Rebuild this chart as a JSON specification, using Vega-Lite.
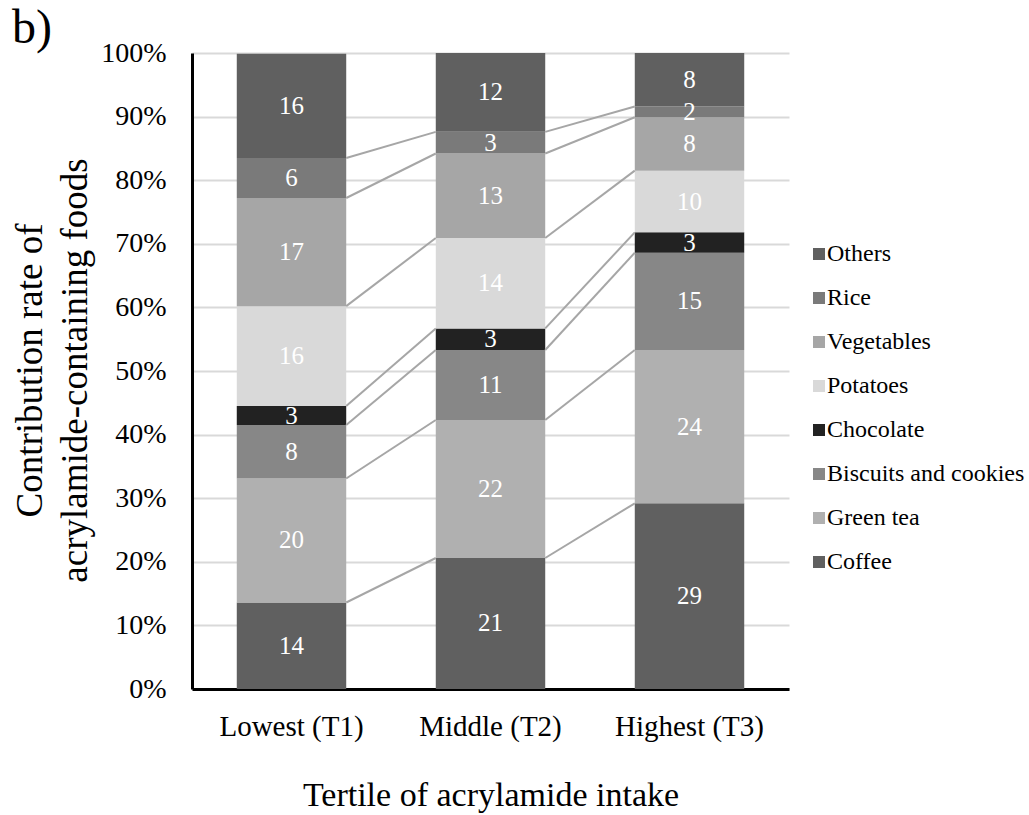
{
  "$schema": "https://vega.github.io/schema/vega-lite/v6.json",
  "width": 597,
  "height": 636,
  "autosize": {"type": "none"},
  "padding": {"left": 192, "top": 53, "right": 240, "bottom": 126},
  "background": "white",
  "title": {"text": "b)", "anchor": "start", "frame": "group", "fontSize": 48, "font": "Liberation Serif", "fontWeight": "normal", "color": "black", "dx": -180, "offset": -38, "dy": 14, "baseline": "alphabetic"},
  "config": {"view": {"stroke": null}, "font": "Liberation Serif", "text": {"font": "Liberation Serif"}},
  "data": {"values": [
    {"tier": "Lowest (T1)", "tn": 1, "food": "Coffee", "rank": 1, "value": 13.6},
    {"tier": "Lowest (T1)", "tn": 1, "food": "Green tea", "rank": 2, "value": 19.5},
    {"tier": "Lowest (T1)", "tn": 1, "food": "Biscuits and cookies", "rank": 3, "value": 8.4},
    {"tier": "Lowest (T1)", "tn": 1, "food": "Chocolate", "rank": 4, "value": 3.0},
    {"tier": "Lowest (T1)", "tn": 1, "food": "Potatoes", "rank": 5, "value": 15.7},
    {"tier": "Lowest (T1)", "tn": 1, "food": "Vegetables", "rank": 6, "value": 17.0},
    {"tier": "Lowest (T1)", "tn": 1, "food": "Rice", "rank": 7, "value": 6.3},
    {"tier": "Lowest (T1)", "tn": 1, "food": "Others", "rank": 8, "value": 16.4},
    {"tier": "Middle (T2)", "tn": 2, "food": "Coffee", "rank": 1, "value": 20.6},
    {"tier": "Middle (T2)", "tn": 2, "food": "Green tea", "rank": 2, "value": 21.7},
    {"tier": "Middle (T2)", "tn": 2, "food": "Biscuits and cookies", "rank": 3, "value": 11.0},
    {"tier": "Middle (T2)", "tn": 2, "food": "Chocolate", "rank": 4, "value": 3.4},
    {"tier": "Middle (T2)", "tn": 2, "food": "Potatoes", "rank": 5, "value": 14.2},
    {"tier": "Middle (T2)", "tn": 2, "food": "Vegetables", "rank": 6, "value": 13.3},
    {"tier": "Middle (T2)", "tn": 2, "food": "Rice", "rank": 7, "value": 3.4},
    {"tier": "Middle (T2)", "tn": 2, "food": "Others", "rank": 8, "value": 12.4},
    {"tier": "Highest (T3)", "tn": 3, "food": "Coffee", "rank": 1, "value": 29.2},
    {"tier": "Highest (T3)", "tn": 3, "food": "Green tea", "rank": 2, "value": 24.1},
    {"tier": "Highest (T3)", "tn": 3, "food": "Biscuits and cookies", "rank": 3, "value": 15.3},
    {"tier": "Highest (T3)", "tn": 3, "food": "Chocolate", "rank": 4, "value": 3.2},
    {"tier": "Highest (T3)", "tn": 3, "food": "Potatoes", "rank": 5, "value": 9.7},
    {"tier": "Highest (T3)", "tn": 3, "food": "Vegetables", "rank": 6, "value": 8.4},
    {"tier": "Highest (T3)", "tn": 3, "food": "Rice", "rank": 7, "value": 1.7},
    {"tier": "Highest (T3)", "tn": 3, "food": "Others", "rank": 8, "value": 8.4}
  ]},
  "transform": [
    {"stack": "value", "groupby": ["tier"], "sort": [{"field": "rank", "order": "ascending"}], "as": ["v0", "v1"]}
  ],
  "encoding": {
    "x": {"field": "tier", "type": "nominal",
      "scale": {"domain": ["Lowest (T1)", "Middle (T2)", "Highest (T3)"], "paddingInner": 0.45, "paddingOuter": 0.225},
      "axis": {"title": "Tertile of acrylamide intake", "labelAngle": 0, "labelFontSize": 29, "labelColor": "black", "labelFont": "Liberation Serif", "labelPadding": 23, "ticks": false, "domainColor": "black", "domainWidth": 3, "titleFontSize": 34, "titleFont": "Liberation Serif", "titleFontWeight": "normal", "titleColor": "black", "titlePadding": 37}
    }
  },
  "layer": [
    {
      "mark": {"type": "bar", "stroke": null},
      "encoding": {
        "y": {"field": "v0", "type": "quantitative",
          "scale": {"domain": [0, 100], "nice": false},
          "axis": {"values": [0, 10, 20, 30, 40, 50, 60, 70, 80, 90, 100], "labelExpr": "datum.value + '%'", "labelFontSize": 28, "labelColor": "black", "labelFont": "Liberation Serif", "labelPadding": 26, "ticks": false, "domainColor": "black", "domainWidth": 3, "gridColor": "#d9d9d9", "gridWidth": 2,
            "title": ["Contribution rate of", "acrylamide-containing foods"], "titleFontSize": 37, "titleFont": "Liberation Serif", "titleFontWeight": "normal", "titleColor": "black", "titleLineHeight": 45, "titleAngle": -90, "titleX": -180, "titleY": 317, "titleBaseline": "top", "titleAlign": "center"}
        },
        "y2": {"field": "v1"},
        "color": {"field": "food", "type": "nominal",
          "scale": {"domain": ["Others", "Rice", "Vegetables", "Potatoes", "Chocolate", "Biscuits and cookies", "Green tea", "Coffee"],
                    "range": ["#606060", "#7a7a7a", "#a6a6a6", "#d9d9d9", "#222222", "#878787", "#b0b0b0", "#606060"]},
          "legend": {"title": null, "orient": "none", "legendX": 615, "legendY": 189, "symbolType": "square", "symbolSize": 144, "symbolStrokeWidth": 0, "symbolOpacity": 1, "labelFontSize": 24, "labelLimit": 400, "labelFont": "Liberation Serif", "labelColor": "black", "rowPadding": 20, "labelOffset": -4}
        }
      }
    },
    {
      "transform": [
        {"window": [{"op": "lead", "field": "v1", "as": "next_v1"}, {"op": "lead", "field": "tier", "as": "next_tier"}], "groupby": ["food"], "sort": [{"field": "tn", "order": "ascending"}]},
        {"filter": "datum.next_tier != null && datum.food != 'Others'"}
      ],
      "mark": {"type": "rule", "color": "#a6a6a6", "strokeWidth": 2},
      "encoding": {
        "x": {"field": "tier", "type": "nominal", "bandPosition": 1},
        "x2": {"field": "next_tier", "bandPosition": 0},
        "y": {"field": "v1", "type": "quantitative"},
        "y2": {"field": "next_v1"}
      }
    },
    {
      "transform": [{"calculate": "(datum.v0 + datum.v1) / 2", "as": "mid"}],
      "mark": {"type": "text", "color": "white", "fontSize": 25, "font": "Liberation Serif", "baseline": "middle"},
      "encoding": {
        "y": {"field": "mid", "type": "quantitative"},
        "text": {"field": "value", "type": "quantitative", "format": ".0f"}
      }
    }
  ]
}
